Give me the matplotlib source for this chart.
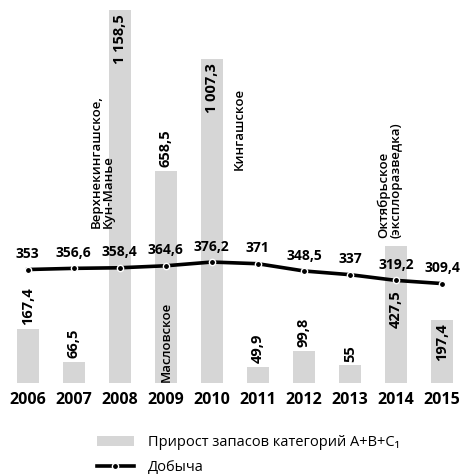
import matplotlib
matplotlib.use("Agg")
import matplotlib.pyplot as plt
from matplotlib.patches import Patch
from matplotlib.lines import Line2D

plt.rcParams['font.family'] = ['Open Sans', 'DejaVu Sans']

# данные
годы = [2006, 2007, 2008, 2009, 2010, 2011, 2012, 2013, 2014, 2015]
прирост = [167.4, 66.5, 1158.5, 658.5, 1007.3, 49.9, 99.8, 55, 427.5, 197.4]
добыча = [353, 356.6, 358.4, 364.6, 376.2, 371, 348.5, 337, 319.2, 309.4]
подписи_прирост = ["167,4", "66,5", "1 158,5", "658,5", "1 007,3", "49,9", "99,8", "55", "427,5", "197,4"]
подписи_добыча = ["353", "356,6", "358,4", "364,6", "376,2", "371", "348,5", "337", "319,2", "309,4"]

# где ставить подпись столбца: над столбцом или внутри у вершины
внутри = [False, False, True, False, True, False, False, False, True, True]

fig = plt.figure(figsize=(4.65, 4.76), dpi=100)
ax = fig.add_axes([0.01, 0.195, 0.99, 0.805])

ax.bar(годы, прирост, width=0.48, color='#d6d6d6', zorder=1)
ax.plot(годы, добыча, color='black', lw=2.6, marker='o', ms=4.5,
        mfc='black', mec='white', mew=1.0, zorder=3)

for x, v, s, inn in zip(годы, прирост, подписи_прирост, внутри):
    if inn:
        y = v - 12
        if x == 2014:
            y = 290  # ниже линии добычи
        ax.text(x, y, s, rotation=90, ha='center', va='top',
                fontsize=10.5, fontweight='bold', zorder=4)
    else:
        ax.text(x, v + 12, s, rotation=90, ha='center', va='bottom',
                fontsize=10.5, fontweight='bold', zorder=4)

for x, v, s in zip(годы, добыча, подписи_добыча):
    ax.text(x, v + 26, s, ha='center', va='bottom', fontsize=10,
            fontweight='bold', zorder=4)

# названия месторождений
ax.text(2007.62, 481, "Верхнекингашское,\nКун-Манье", rotation=90,
        ha='center', va='bottom', multialignment='left', fontsize=9.5,
        fontweight='semibold', linespacing=0.95)
ax.text(2010.59, 661, "Кингашское", rotation=90, ha='center', va='bottom',
        fontsize=9.5, fontweight='semibold')
ax.text(2009, 4, "Масловское", rotation=90, ha='center', va='bottom',
        fontsize=9.5, fontweight='semibold')
ax.text(2013.87, 450, "Октябрьское\n(эксплоразведка)", rotation=90,
        ha='center', va='bottom', multialignment='left', fontsize=9.5,
        fontweight='semibold', linespacing=0.95)

ax.set_xlim(2005.5, 2015.5)
ax.set_ylim(0, 1190)
ax.set_xticks(годы)
ax.set_xticklabels([str(g) for g in годы], fontsize=11.5, fontweight='bold')
ax.tick_params(axis='x', length=0, pad=6)
ax.set_yticks([])
for sp in ax.spines.values():
    sp.set_visible(False)

handles = [
    Patch(facecolor='#d6d6d6', label='Прирост запасов категорий A+B+C\u2081'),
    Line2D([0], [0], color='black', lw=2.6, marker='o', ms=4.5, mfc='black',
           mec='white', mew=1.0, label='Добыча'),
]
fig.legend(handles=handles, loc='upper left', bbox_to_anchor=(0.195, 0.098),
           frameon=False, fontsize=10.5, handlelength=2.6, handletextpad=0.9,
           labelspacing=0.7, borderaxespad=0)

fig.savefig("out.png", dpi=100)
